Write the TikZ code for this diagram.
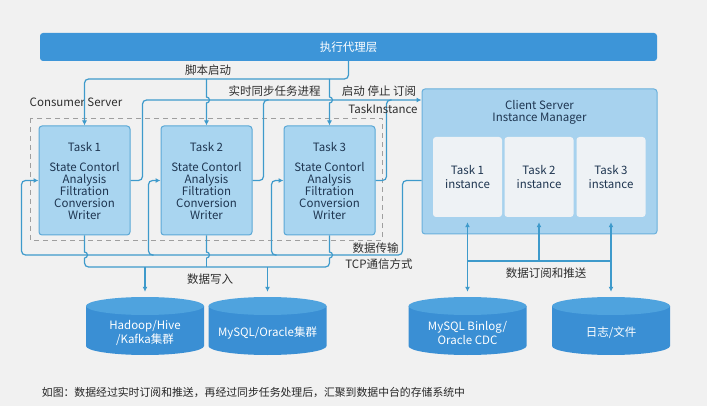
\documentclass[tikz,border=0pt]{standalone}
\usepackage{fontspec}
\setmainfont{Noto Sans CJK SC}
\usetikzlibrary{arrows.meta,calc}
\definecolor{Canvas}{HTML}{F1F1F1}
\definecolor{AgentBlue}{HTML}{3D95D8}
\definecolor{TaskFill}{HTML}{A9D5F0}
\definecolor{TaskEdge}{HTML}{5BA8D6}
\definecolor{LinkBlue}{HTML}{3E9ACB}
\definecolor{PanelFill}{HTML}{A7D2EE}
\definecolor{PanelEdge}{HTML}{6AB0DC}
\definecolor{SlotFill}{HTML}{EEF2F5}
\definecolor{DbBody}{HTML}{3A8FD4}
\definecolor{DbTop}{HTML}{4FA3DE}
\definecolor{TaskInk}{HTML}{1E3550}
\definecolor{LabelInk}{HTML}{2E2E2E}

\begin{document}
\begin{tikzpicture}[x=1pt,y=-1pt,
  every node/.style={text=LabelInk,font=\fontsize{11.5}{12}\selectfont},
  agentbar/.style={fill=AgentBlue,rounded corners=3pt,minimum width=617pt,minimum height=28pt,text=white},
  taskbox/.style={fill=TaskFill,draw=TaskEdge,line width=1pt,rounded corners=3pt,minimum width=91pt,minimum height=109pt,align=center,text=TaskInk},
  panel/.style={fill=PanelFill,draw=PanelEdge,line width=1pt,rounded corners=3pt,minimum width=235pt,minimum height=145pt},
  slot/.style={fill=SlotFill,rounded corners=3pt,minimum width=69pt,minimum height=80pt,align=center,text=TaskInk},
  dbnode/.style={minimum width=118pt,minimum height=72pt,align=center,text=white,inner sep=0pt},
  link/.style={draw=LinkBlue,line width=1.2pt},
  toarrow/.style={-{Latex[length=5pt,width=5pt]}},
  duplex/.style={{Latex[length=5pt,width=5pt]}-{Latex[length=5pt,width=5pt]}}]
\useasboundingbox (0,0) rectangle (707,406);
\fill[Canvas] (0,0) rectangle (707,406);
\coordinate (busTop) at (0,79);
\coordinate (busMid) at (0,100);
\coordinate (busTcp) at (0,255);
\coordinate (busSub) at (0,261);
\coordinate (busWrite) at (0,267);

\node[agentbar] (agent) at (348.5,47) {执行代理层};
\draw[draw=gray!75,line width=0.8pt,dash pattern=on 5pt off 4pt] (30,118) rectangle (382,240);
\node (consumer) at (76,102) {Consumer Server};
\foreach \i/\x in {1/84.5,2/206.5,3/329.5}
  \node[taskbox] (t\i) at (\x,180.5) {Task \i\\[8pt]State Contorl\\Analysis\\Filtration\\Conversion\\Writer};

\node[panel] (cs) at (539.5,161.5) {};
\node[align=center,text=TaskInk] (cstitle) at (539.5,112) {Client Server\\Instance Manager};
\foreach \i/\x in {1/467.5,2/539,3/611}
  \node[slot] (i\i) at (\x,177) {Task \i\\[2pt]instance};

\foreach \x in {145,267.5,467.5,611}{
  \fill[DbBody] (\x-59,306) -- (\x-59,346) arc[start angle=180,end angle=360,x radius=59pt,y radius=9pt] -- (\x+59,306) -- cycle;
  \fill[DbTop] (\x,306) ellipse[x radius=59pt,y radius=9pt];
}
\node[dbnode] (db1) at (145,333) {Hadoop/Hive\\/Kafka集群};
\node[dbnode] (db2) at (267.5,333) {MySQL/Oracle集群};
\node[dbnode] (db3) at (467.5,333) {MySQL Binlog/\\Oracle CDC};
\node[dbnode] (db4) at (611,333) {日志/文件};

\draw[link,toarrow,rounded corners=4pt] (agent.south) |- (t1.north |- busTop) -- (t1.north);
\draw[link,toarrow] (t2.north |- busTop) -- ($(t2.north |- busMid)+(0,-3)$) arc[start angle=90,end angle=-90,radius=3pt] -- (t2.north);
\draw[link,toarrow] (t3.north |- busTop) -- ($(t3.north |- busMid)+(0,-3)$) arc[start angle=90,end angle=-90,radius=3pt] -- (t3.north);
\node (lblScript) at (208,70) {脚本启动};

\draw[link,toarrow,rounded corners=4pt] (t1.east) -- ++(12,0) |- (cs.west |- busMid);
\draw[link,rounded corners=4pt] (t2.east) -- ($(t2.east)+(11,0)$) |- ($(t2.east |- busMid)+(16,0)$);
\draw[link,rounded corners=4pt] (t3.east) -- ($(t3.east)+(11,0)$) |- ($(t3.east |- busMid)+(16,0)$);
\node (lblSync) at (274.5,91) {实时同步任务进程};
\node (lblCtrl) at (379,91) {启动 停止 订阅};
\node (lblInst) at (383,109) {TaskInstance};

\draw[link,toarrow,rounded corners=4pt] (cs.west |- t1.east) -- ++(-19,0) |- ($(t1.west |- busTcp)+(-17,0)$) |- (t1.west);
\draw[link,toarrow,rounded corners=4pt] ($(t2.west |- busTcp)+(-7,0)$) -| ($(t2.west)+(-12,0)$) -- (t2.west);
\draw[link,toarrow,rounded corners=4pt] ($(t3.west |- busTcp)+(-7,0)$) -| ($(t3.west)+(-12,0)$) -- (t3.west);
\node (lblTcpA) at (375.5,248) {数据传输};
\node (lblTcpB) at (379,264) {TCP通信方式};

\foreach \i in {1,2,3}
  \draw[link] (t\i.south) -- ($(t\i.south |- busTcp)+(0,-3)$) arc[start angle=90,end angle=-90,radius=3pt];
\draw[link,rounded corners=4pt] ($(t1.south |- busTcp)+(0,3)$) |- (t3.south |- busWrite) -- ($(t3.south |- busTcp)+(0,3)$);
\draw[link] ($(t2.south |- busTcp)+(0,3)$) -- (t2.south |- busWrite);
\draw[link,toarrow,shorten >=5pt] (db1.north |- busWrite) -- (db1.north);
\draw[link,toarrow,shorten >=5pt] (db2.north |- busWrite) -- (db2.north);
\node (lblWrite) at (210,279) {数据写入};

\draw[link,duplex,shorten <=5pt,shorten >=5pt] (i1.south) -- (db3.north);
\draw[link,duplex,shorten <=5pt,shorten >=5pt] (i3.south) -- (db4.north);
\draw[link] (i1.south |- busSub) -- (i3.south |- busSub);
\draw[link,toarrow,shorten >=5pt] (i2.south |- busSub) -- (i2.south);
\node (lblSub) at (546,273) {数据订阅和推送};

\node[font=\fontsize{10.85}{14}\selectfont,text=black!85] (caption) at (253.5,392) {如图：数据经过实时订阅和推送，再经过同步任务处理后，汇聚到数据中台的存储系统中};
\end{tikzpicture}
\end{document}
